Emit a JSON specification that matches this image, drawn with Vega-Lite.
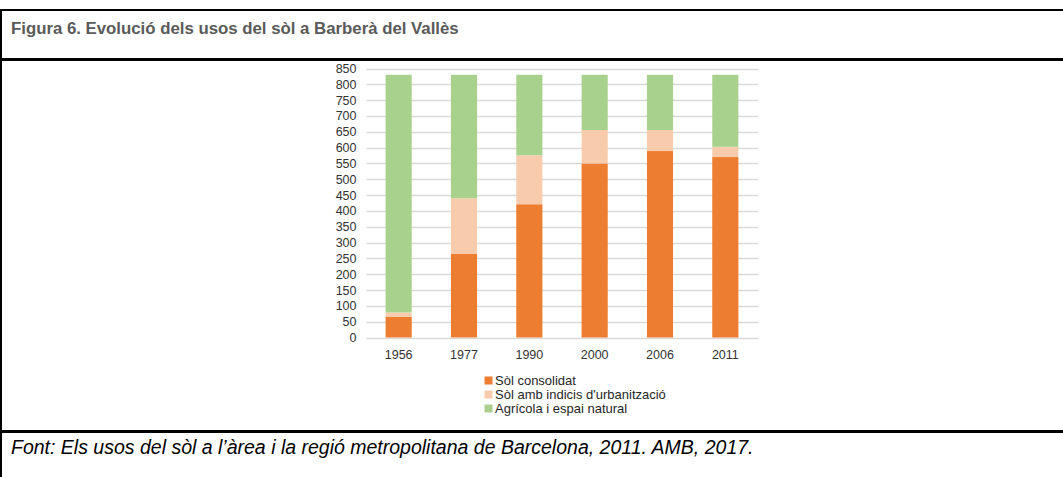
{
  "$schema": "https://vega.github.io/schema/vega-lite/v6.json",
  "padding": {"left": 0, "top": 9, "right": 0, "bottom": 0},
  "background": "white",
  "spacing": -2,
  "vconcat": [
    {
      "width": 1070,
      "height": 49,
      "title": {
        "text": "Figura 6. Evolució dels usos del sòl a Barberà del Vallès",
        "orient": "top",
        "anchor": "start",
        "frame": "group",
        "offset": -42,
        "dx": 10,
        "baseline": "alphabetic",
        "font": "Liberation Sans",
        "fontSize": 16.8,
        "fontWeight": "bold",
        "color": "#5a5a5a"
      },
      "data": {"values": [{"seccio": "capçalera"}]},
      "mark": {"type": "rect", "fill": "white", "stroke": "#000000", "strokeWidth": 2},
      "encoding": {}
    },
    {
      "width": 1070,
      "height": 371,
      "data": {
        "values": [
          {"any": "1956", "us": "Sòl consolidat", "ordre": 1, "ha": 65},
          {"any": "1956", "us": "Sòl amb indicis d'urbanització", "ordre": 2, "ha": 14},
          {"any": "1956", "us": "Agrícola i espai natural", "ordre": 3, "ha": 751},
          {"any": "1977", "us": "Sòl consolidat", "ordre": 1, "ha": 264},
          {"any": "1977", "us": "Sòl amb indicis d'urbanització", "ordre": 2, "ha": 176},
          {"any": "1977", "us": "Agrícola i espai natural", "ordre": 3, "ha": 390},
          {"any": "1990", "us": "Sòl consolidat", "ordre": 1, "ha": 421},
          {"any": "1990", "us": "Sòl amb indicis d'urbanització", "ordre": 2, "ha": 155},
          {"any": "1990", "us": "Agrícola i espai natural", "ordre": 3, "ha": 254},
          {"any": "2000", "us": "Sòl consolidat", "ordre": 1, "ha": 550},
          {"any": "2000", "us": "Sòl amb indicis d'urbanització", "ordre": 2, "ha": 106},
          {"any": "2000", "us": "Agrícola i espai natural", "ordre": 3, "ha": 174},
          {"any": "2006", "us": "Sòl consolidat", "ordre": 1, "ha": 589},
          {"any": "2006", "us": "Sòl amb indicis d'urbanització", "ordre": 2, "ha": 67},
          {"any": "2006", "us": "Agrícola i espai natural", "ordre": 3, "ha": 174},
          {"any": "2011", "us": "Sòl consolidat", "ordre": 1, "ha": 570},
          {"any": "2011", "us": "Sòl amb indicis d'urbanització", "ordre": 2, "ha": 33},
          {"any": "2011", "us": "Agrícola i espai natural", "ordre": 3, "ha": 227}
        ]
      },
      "mark": {"type": "bar"},
      "encoding": {
        "x": {
          "field": "any",
          "type": "nominal",
          "sort": null,
          "scale": {"type": "band", "range": [365, 757], "paddingInner": 0.6, "paddingOuter": 0.3},
          "axis": {
            "title": null,
            "orient": "bottom",
            "offset": -93.5,
            "domain": false,
            "ticks": false,
            "tickSize": 0,
            "grid": false,
            "labelPadding": 11,
            "labelAngle": 0,
            "labelFont": "Liberation Sans",
            "labelFontSize": 12.5,
            "labelColor": "#333333"
          }
        },
        "y": {
          "field": "ha",
          "type": "quantitative",
          "stack": "zero",
          "scale": {"domain": [0, 850], "range": [277.5, 8.5], "nice": false, "zero": true},
          "axis": {
            "title": null,
            "orient": "left",
            "offset": -365,
            "values": [0, 50, 100, 150, 200, 250, 300, 350, 400, 450, 500, 550, 600, 650, 700, 750, 800, 850],
            "domain": false,
            "ticks": false,
            "tickSize": 0,
            "grid": true,
            "gridColor": "#d9d9d9",
            "gridWidth": 1.3,
            "labelPadding": 10,
            "labelFont": "Liberation Sans",
            "labelFontSize": 12.5,
            "labelColor": "#333333"
          }
        },
        "color": {
          "field": "us",
          "type": "nominal",
          "scale": {
            "domain": ["Sòl consolidat", "Sòl amb indicis d'urbanització", "Agrícola i espai natural"],
            "range": ["#ed7d31", "#f8cbad", "#a9d18e"]
          },
          "legend": {
            "title": null,
            "orient": "none",
            "legendX": 481,
            "legendY": 364,
            "direction": "vertical",
            "padding": 0,
            "symbolType": "square",
            "symbolSize": 64,
            "symbolStrokeWidth": 0,
            "labelOffset": 0,
            "labelLimit": 400,
            "rowPadding": -0.5,
            "labelFont": "Liberation Sans",
            "labelFontSize": 13,
            "labelColor": "#262626"
          }
        },
        "order": {"field": "ordre", "type": "quantitative", "sort": "ascending"}
      }
    },
    {
      "width": 1070,
      "height": 60,
      "title": {
        "text": "Font: Els usos del sòl a l’àrea i la regió metropolitana de Barcelona, 2011. AMB, 2017.",
        "orient": "top",
        "anchor": "start",
        "frame": "group",
        "offset": -42,
        "dx": 10,
        "baseline": "alphabetic",
        "font": "Liberation Sans",
        "fontSize": 19.5,
        "fontStyle": "italic",
        "fontWeight": "normal",
        "color": "#000000"
      },
      "data": {"values": [{"seccio": "font"}]},
      "mark": {"type": "rect", "fill": "white", "stroke": "#000000", "strokeWidth": 2},
      "encoding": {}
    }
  ],
  "config": {
    "view": {"stroke": "#000000", "strokeWidth": 2},
    "font": "Liberation Sans"
  }
}
